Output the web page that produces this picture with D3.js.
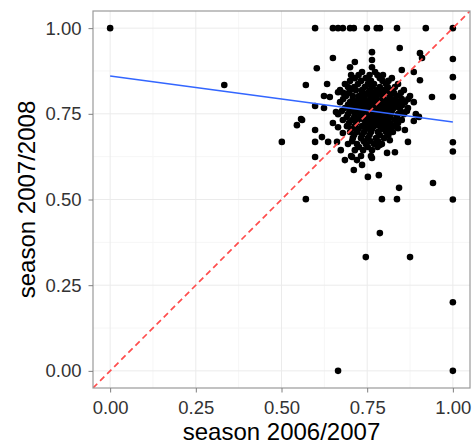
<!DOCTYPE html>
<html>
<head>
<meta charset="utf-8">
<script src="https://cdn.jsdelivr.net/npm/d3@7"></script>
<style>
  body { margin: 0; background: #fff; }
  text { font-family: "Liberation Sans", Arial, Helvetica, sans-serif; }
</style>
</head>
<body>
<svg id="chart" width="476" height="447"></svg>
<script>
// tick values / labels
const xTicks = [0, 0.25, 0.5, 0.75, 1];
const yTicks = [0, 0.25, 0.5, 0.75, 1];
const minorTicks = [0.125, 0.375, 0.625, 0.875];
const tickLabels = ["0.00", "0.25", "0.50", "0.75", "1.00"];

// players on the top edge (2007/2008 = 1)
const topRowX = [0, 0.598, 0.650, 0.665, 0.679, 0.700, 0.711, 0.749, 0.778, 0.787, 0.837, 0.921, 1];
// players on the right edge (2006/2007 = 1)
const rightColY = [0.91, 0.857, 0.80, 0.667, 0.64, 0.5, 0.2, 0];

// dense cluster, row by row: [season 2007/2008, [season 2006/2007 ...]]
const clusterRows = [
  [0.872, [0.735, 0.773]],
  [0.863, [0.725, 0.757, 0.780]],
  [0.854, [0.714, 0.746, 0.787, 0.822]],
  [0.846, [0.700, 0.732, 0.761, 0.795, 0.812]],
  [0.837, [0.685, 0.723, 0.752, 0.770, 0.805, 0.840]],
  [0.828, [0.694, 0.712, 0.743, 0.764, 0.787, 0.810, 0.831]],
  [0.819, [0.671, 0.700, 0.717, 0.735, 0.758, 0.778, 0.799, 0.822, 0.857]],
  [0.811, [0.680, 0.697, 0.735, 0.752, 0.770, 0.787, 0.808, 0.828, 0.848]],
  [0.802, [0.688, 0.708, 0.726, 0.743, 0.761, 0.778, 0.796, 0.816, 0.837, 0.875]],
  [0.793, [0.680, 0.708, 0.726, 0.743, 0.761, 0.778, 0.796, 0.814, 0.831, 0.851, 0.870]],
  [0.784, [0.671, 0.700, 0.717, 0.735, 0.752, 0.770, 0.787, 0.805, 0.822, 0.840, 0.860, 0.886]],
  [0.776, [0.694, 0.712, 0.729, 0.746, 0.764, 0.781, 0.799, 0.817, 0.834, 0.853]],
  [0.767, [0.685, 0.706, 0.723, 0.741, 0.758, 0.776, 0.793, 0.810, 0.828, 0.845, 0.869]],
  [0.758, [0.676, 0.700, 0.718, 0.735, 0.752, 0.770, 0.787, 0.805, 0.822, 0.848, 0.866]],
  [0.749, [0.665, 0.694, 0.714, 0.732, 0.749, 0.767, 0.784, 0.802, 0.819, 0.840, 0.857, 0.892]],
  [0.740, [0.690, 0.712, 0.729, 0.746, 0.764, 0.781, 0.799, 0.817, 0.836]],
  [0.732, [0.679, 0.706, 0.723, 0.741, 0.758, 0.776, 0.793, 0.810, 0.831, 0.851]],
  [0.723, [0.697, 0.718, 0.746, 0.764, 0.781, 0.799, 0.817, 0.840]],
  [0.714, [0.691, 0.714, 0.735, 0.752, 0.770, 0.787, 0.808, 0.828]],
  [0.706, [0.705, 0.725, 0.746, 0.764, 0.795, 0.815]],
  [0.697, [0.700, 0.720, 0.741, 0.761, 0.781, 0.805, 0.825]],
  [0.688, [0.712, 0.735, 0.757, 0.787, 0.812]],
  [0.679, [0.708, 0.732, 0.752, 0.776, 0.799]],
  [0.670, [0.706, 0.740, 0.760, 0.782]],
  [0.662, [0.694, 0.720, 0.746, 0.770, 0.793]],
  [0.653, [0.726, 0.752, 0.780]],
  [0.644, [0.714, 0.738, 0.764]],
  [0.627, [0.703, 0.732, 0.761]]
];

// scattered players [season 2006/2007, season 2007/2008]
const scattered = [
  [0.333, 0.834], [0.501, 0.668], [0.545, 0.717], [0.557, 0.735], [0.560, 0.732],
  [0.571, 0.834], [0.598, 0.773], [0.603, 0.883], [0.633, 0.837], [0.650, 0.913],
  [0.624, 0.802], [0.624, 0.767], [0.598, 0.703], [0.598, 0.668], [0.598, 0.624],
  [0.618, 0.682], [0.636, 0.668], [0.662, 0.668], [0.641, 0.799], [0.665, 0.813],
  [0.650, 0.723], [0.665, 0.711], [0.673, 0.644], [0.685, 0.615], [0.679, 0.694],
  [0.659, 0.755], [0.714, 0.901], [0.700, 0.886], [0.703, 0.863], [0.764, 0.930],
  [0.764, 0.907], [0.764, 0.886], [0.845, 0.942], [0.904, 0.927], [0.910, 0.913],
  [0.886, 0.872], [0.904, 0.848], [0.851, 0.878], [0.796, 0.863], [0.939, 0.799],
  [0.901, 0.741], [0.886, 0.729], [0.869, 0.668], [0.831, 0.638], [0.808, 0.636],
  [0.787, 0.659], [0.816, 0.673], [0.840, 0.708], [0.860, 0.703],
  [0.942, 0.548], [0.843, 0.534], [0.784, 0.571], [0.752, 0.566], [0.711, 0.586],
  [0.735, 0.601], [0.706, 0.624], [0.720, 0.615], [0.764, 0.621],
  [0.571, 0.501], [0.793, 0.501], [0.837, 0.501], [0.787, 0.402],
  [0.746, 0.332], [0.875, 0.332], [0.665, 0]
];

// fitted linear trend (endpoints at x = 0 and x = 1)
const fitX = [0, 1];
const fitY = [0.860, 0.726];

let points = [];
topRowX.forEach(function(x) { points.push([x, 1]); });
rightColY.forEach(function(y) { points.push([1, y]); });
clusterRows.forEach(function(r) { r[1].forEach(function(x) { points.push([x, r[0]]); }); });
points = points.concat(scattered);

let svg = d3.select("#chart"),
    margin = {top: 11, right: 6, bottom: 59, left: 93},
    width = +svg.attr("width") - margin.left - margin.right,
    height = +svg.attr("height") - margin.top - margin.bottom;

let x = d3.scaleLinear().domain([-0.05, 1.05]).range([margin.left, margin.left + width]),
    y = d3.scaleLinear().domain([-0.05, 1.05]).range([margin.top + height, margin.top]);

svg.append("defs").append("clipPath").attr("id", "panel")
  .append("rect")
    .attr("x", margin.left).attr("y", margin.top)
    .attr("width", width).attr("height", height);

// minor grid
let grid = svg.append("g");
grid.selectAll(".vminor").data(minorTicks).enter().append("line")
    .attr("x1", d => x(d)).attr("x2", d => x(d))
    .attr("y1", margin.top).attr("y2", margin.top + height)
    .attr("stroke", "#f6f6f6").attr("stroke-width", 1);
grid.selectAll(".hminor").data(minorTicks).enter().append("line")
    .attr("y1", d => y(d)).attr("y2", d => y(d))
    .attr("x1", margin.left).attr("x2", margin.left + width)
    .attr("stroke", "#f6f6f6").attr("stroke-width", 1);
// major grid
grid.selectAll(".vmajor").data(xTicks).enter().append("line")
    .attr("x1", d => x(d)).attr("x2", d => x(d))
    .attr("y1", margin.top).attr("y2", margin.top + height)
    .attr("stroke", "#ebebeb").attr("stroke-width", 1);
grid.selectAll(".hmajor").data(yTicks).enter().append("line")
    .attr("y1", d => y(d)).attr("y2", d => y(d))
    .attr("x1", margin.left).attr("x2", margin.left + width)
    .attr("stroke", "#ebebeb").attr("stroke-width", 1);

// points
svg.append("g").attr("clip-path", "url(#panel)")
  .selectAll("circle")
  .data(points)
  .enter().append("circle")
    .attr("cx", d => x(d[0]))
    .attr("cy", d => y(d[1]))
    .attr("r", 3.3)
    .attr("fill", "#000");

// trend line
svg.append("line")
    .attr("x1", x(fitX[0])).attr("y1", y(fitY[0]))
    .attr("x2", x(fitX[1])).attr("y2", y(fitY[1]))
    .attr("stroke", "#3366ff").attr("stroke-width", 1.5);

// identity line
svg.append("line")
    .attr("clip-path", "url(#panel)")
    .attr("x1", x(-0.05)).attr("y1", y(-0.05))
    .attr("x2", x(1.05)).attr("y2", y(1.05))
    .attr("stroke", "#ff4d4d").attr("stroke-width", 1.7)
    .attr("stroke-dasharray", "6,4");

// panel border
svg.append("rect")
    .attr("x", margin.left).attr("y", margin.top)
    .attr("width", width).attr("height", height)
    .attr("fill", "none").attr("stroke", "#9a9a9a").attr("stroke-width", 1.2);

// x axis
let xAxis = svg.append("g")
    .attr("transform", "translate(0," + (margin.top + height) + ")")
    .call(d3.axisBottom(x).tickValues(xTicks).tickSize(4.5).tickPadding(4)
          .tickFormat((d, i) => tickLabels[i]));
xAxis.select(".domain").remove();
xAxis.selectAll(".tick line").attr("stroke", "#7f7f7f");
xAxis.selectAll(".tick text").attr("font-size", 18.5).attr("fill", "#333")
    .attr("font-family", "Liberation Sans, Arial, sans-serif").attr("dy", "0.95em");

// y axis
let yAxis = svg.append("g")
    .attr("transform", "translate(" + margin.left + ",0)")
    .call(d3.axisLeft(y).tickValues(yTicks).tickSize(4.5).tickPadding(7)
          .tickFormat((d, i) => tickLabels[i]));
yAxis.select(".domain").remove();
yAxis.selectAll(".tick line").attr("stroke", "#7f7f7f");
yAxis.selectAll(".tick text").attr("font-size", 18.5).attr("fill", "#333")
    .attr("font-family", "Liberation Sans, Arial, sans-serif");

// axis titles
svg.append("text")
    .attr("x", margin.left + width / 2).attr("y", 440)
    .attr("text-anchor", "middle").attr("font-size", 24).attr("fill", "#000")
    .text("season 2006/2007");

svg.append("text")
    .attr("transform", "translate(35," + (margin.top + height / 2) + ") rotate(-90)")
    .attr("text-anchor", "middle").attr("font-size", 24).attr("fill", "#000")
    .text("season 2007/2008");
</script>
</body>
</html>
